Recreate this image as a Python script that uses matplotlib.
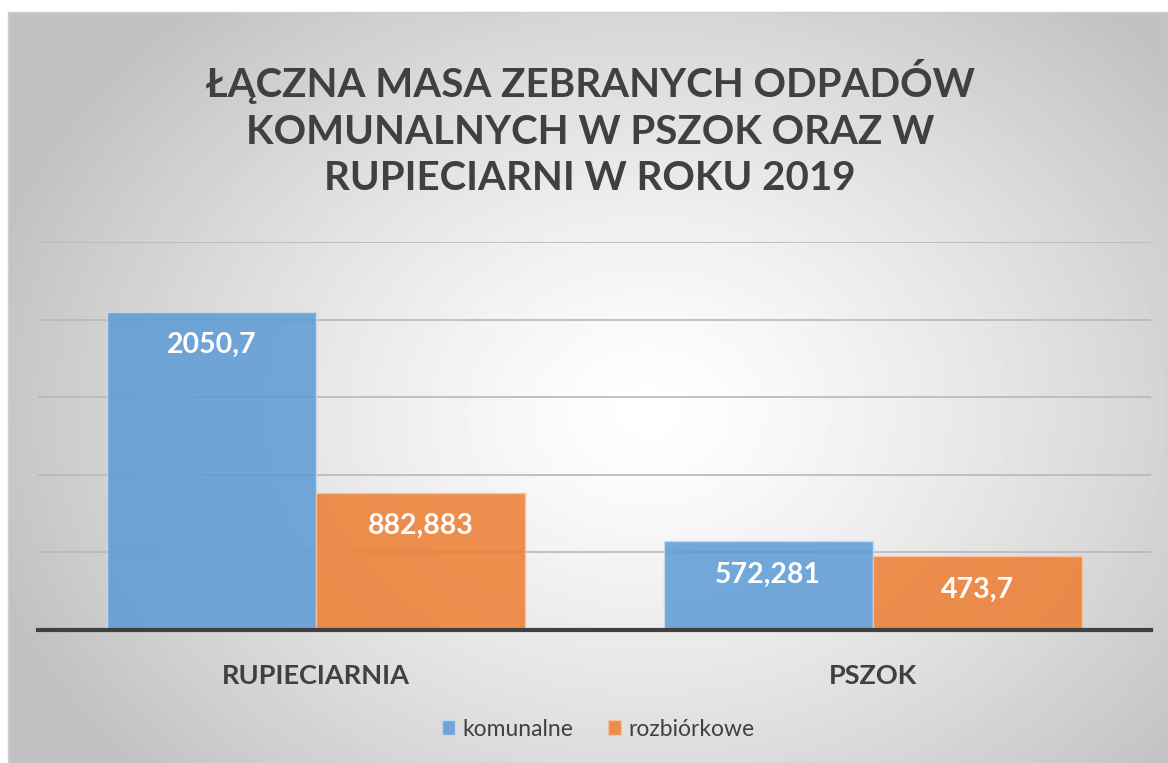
import matplotlib
matplotlib.use('Agg')
import matplotlib.pyplot as plt
import numpy as np

plt.rcParams['font.family'] = ['Lato', 'DejaVu Sans']

categories = ['RUPIECIARNIA', 'PSZOK']
series_names = ['komunalne', 'rozbiórkowe']
komunalne = [2050.7, 572.281]
rozbiorkowe = [882.883, 473.7]
labels_kom = ['2050,7', '572,281']
labels_roz = ['882,883', '473,7']
title = 'ŁĄCZNA MASA ZEBRANYCH ODPADÓW\nKOMUNALNYCH W PSZOK ORAZ W\nRUPIECIARNI W ROKU 2019'

W, H = 1168, 763
fig = plt.figure(figsize=(W / 100, H / 100), dpi=100)
fig.patch.set_facecolor('white')

# radial gradient background of the chart area
bg = fig.add_axes([8 / W, 0, 1 - 8 / W, 1 - 12 / H])
yy, xx = np.mgrid[0:751, 0:1160]
cx, cy = 640, 400
d = np.sqrt(((xx - cx) / 680.0) ** 2 + ((yy - cy) / 540.0) ** 2)
val = 1.0 - 0.24 * np.clip(d, 0, 1) ** 1.3
bg.imshow(val, cmap='gray', vmin=0, vmax=1, aspect='auto', interpolation='bilinear')
bg.set_xticks([])
bg.set_yticks([])
for s in bg.spines.values():
    s.set_color('#d0d0d0')
    s.set_linewidth(1)

ax = fig.add_axes([38 / W, 1 - 630 / H, (1151 - 38) / W, (630 - 242) / H])
ax.patch.set_alpha(0)
x = np.arange(len(categories))
bw = 0.376
b1 = ax.bar(x - bw / 2, komunalne, bw, color='#5B9BD5', alpha=0.85,
            edgecolor='#c9dcee', linewidth=1, label=series_names[0], zorder=2)
b2 = ax.bar(x + bw / 2, rozbiorkowe, bw, color='#ED7D31', alpha=0.85,
            edgecolor='#f6c6a4', linewidth=1, label=series_names[1], zorder=2)

for bars, labs in ((b1, labels_kom), (b2, labels_roz)):
    for rect, lab in zip(bars, labs):
        ax.annotate(lab, (rect.get_x() + rect.get_width() / 2, rect.get_height()),
                    xytext=(0, -24), textcoords='offset points', ha='center', va='center',
                    color='white', fontsize=20.5, fontweight='bold', zorder=3)

ax.set_xlim(-0.5, 1.5)
ax.set_ylim(0, 2500)
ax.set_yticks(np.arange(0, 2501, 500))
ax.yaxis.grid(True, color='#b8b8b8', linewidth=1.2, zorder=1)
ax.set_axisbelow(True)
ax.tick_params(axis='y', left=False, labelleft=False)
ax.tick_params(axis='x', bottom=False, pad=21)
ax.set_xticks(x)
ax.set_xticklabels(categories, fontsize=19.5, fontweight='bold', color='#404040')
for k in ('top', 'right', 'left'):
    ax.spines[k].set_visible(False)
ax.spines['bottom'].set_color('#404040')
ax.spines['bottom'].set_linewidth(3)
ax.spines['bottom'].set_zorder(4)

fig.text(590 / W, 1 - 128 / H, title, ha='center', va='center', fontsize=29,
         fontweight='bold', color='#404040', linespacing=1.3)

fig.legend(handles=[b1, b2], labels=series_names, loc='center', bbox_to_anchor=(598 / W, 1 - 729 / H),
           ncol=2, frameon=False, fontsize=16.5, labelcolor='#404040', handlelength=0.6,
           handleheight=0.6, handletextpad=0.3, columnspacing=1.5)

fig.savefig('out.png', dpi=100)
